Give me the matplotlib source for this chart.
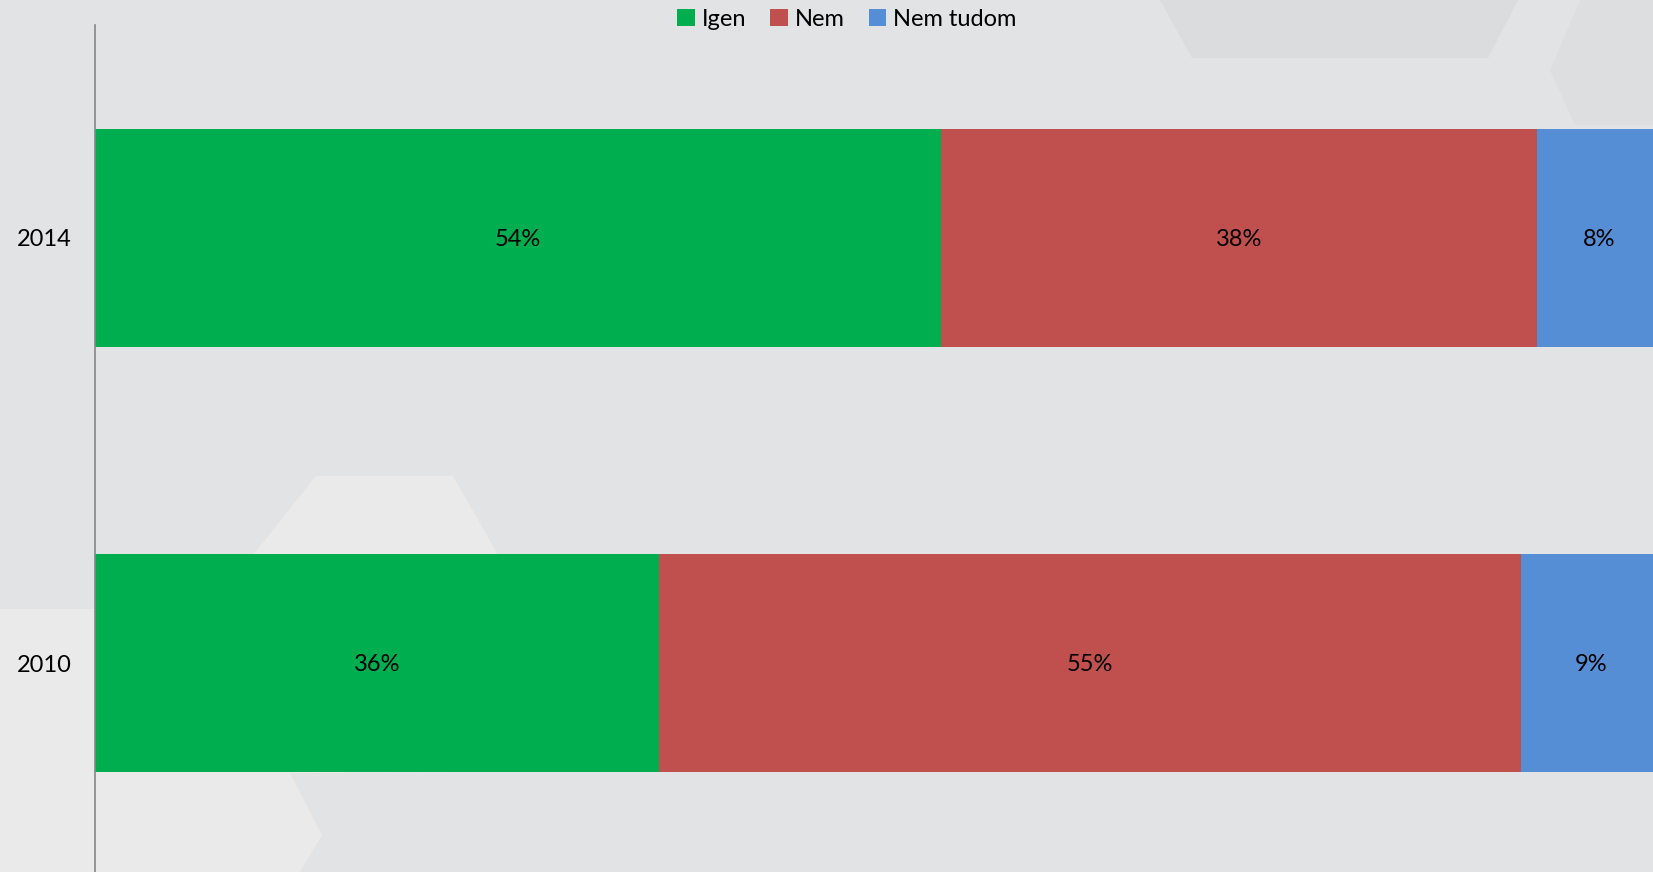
"""Stacked horizontal bar chart: Igen / Nem / Nem tudom, 2010 vs 2014."""

import matplotlib
matplotlib.use("Agg")
import matplotlib.pyplot as plt
from matplotlib.patches import Patch, Polygon

plt.rcParams['font.family'] = ['Lato', 'DejaVu Sans']

# data
years = ["2010", "2014"]
series_names = ["Igen", "Nem", "Nem tudom"]
igen = [0.36, 0.54]
nem = [0.55, 0.38]
nem_tudom = [0.09, 0.08]
colors = ["#00AE50", "#C0504D", "#558ED5"]

W, H = 1653, 872
BG = "#E2E3E5"

fig = plt.figure(figsize=(W / 100, H / 100), dpi=100, facecolor=BG)


def px(points):
    # pixel coords (from top-left) -> figure fraction
    return [(x / W, 1 - y / H) for x, y in points]


# faint hexagon shapes in the background
light = [(0, 609), (210, 609), (316, 476), (453, 476), (497, 553),
         (470, 772), (290, 773), (322, 835), (300, 872), (0, 872)]
dark_top = [(1160, 0), (1518, 0), (1488, 58), (1192, 58)]
dark_right = [(1580, 0), (W, 0), (W, 125), (1575, 125), (1550, 70)]
for pts, col in [(light, "#EAEAEA"), (dark_top, "#DBDCDE"), (dark_right, "#DDDEE0")]:
    fig.patches.append(Polygon(px(pts), closed=True, transform=fig.transFigure,
                               facecolor=col, edgecolor="none", zorder=-1))

# axes: left at x=95 px, 100% width = 1567 px (runs past the right edge)
ax = fig.add_axes([95 / W, (H - 875.5) / H, 1567 / W, 850 / H])
ax.set_facecolor("none")

ypos = list(range(len(years)))
left = [0.0] * len(years)
for name, vals, col in zip(series_names, [igen, nem, nem_tudom], colors):
    bars = ax.barh(ypos, vals, left=left, height=0.513, color=col,
                   edgecolor="none", label=name, clip_on=False)
    for b, v in zip(bars, vals):
        ax.text(b.get_x() + b.get_width() / 2, b.get_y() + b.get_height() / 2 - 0.004,
                f"{round(v * 100)}%", ha="center", va="center",
                fontsize=17, color="black")
    left = [l + v for l, v in zip(left, vals)]

ax.set_xlim(0, 1)
ax.set_ylim(-0.5, 1.5)
ax.set_yticks(ypos)
ax.set_yticklabels(years, fontsize=17)
ax.set_xticks([])
ax.tick_params(axis="y", length=0, pad=17)
for side in ["top", "right", "bottom"]:
    ax.spines[side].set_visible(False)
ax.spines["left"].set_color("#868686")
ax.spines["left"].set_linewidth(1.2)

handles = [Patch(facecolor=c, edgecolor="none") for c in colors]
fig.legend(handles, series_names, loc="center", ncol=3, frameon=False,
           bbox_to_anchor=(847 / W, 1 - 19 / H), fontsize=17,
           handlelength=0.75, handleheight=0.75, handletextpad=0.3,
           columnspacing=1.0)

fig.savefig("out.png", dpi=100, facecolor=BG)
